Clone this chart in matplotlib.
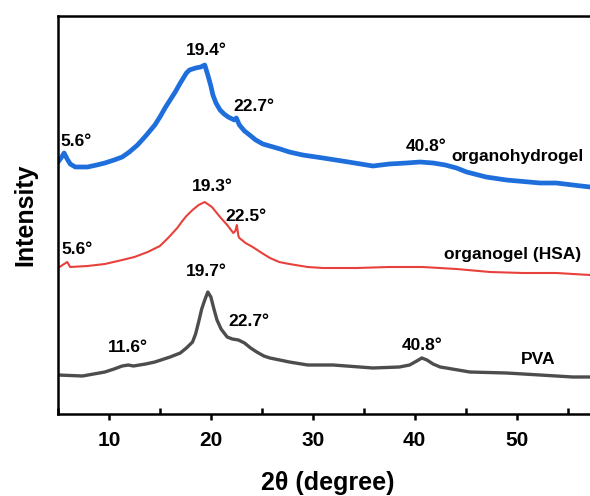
import matplotlib
matplotlib.use("Agg")
import matplotlib.pyplot as plt
from matplotlib.ticker import MultipleLocator

plt.rcParams["font.family"] = ["Liberation Sans", "DejaVu Sans"]
plt.rcParams["font.weight"] = "bold"

# organohydrogel (blue)
hydro_x = [5.0, 5.3, 5.6, 5.9, 6.2, 6.7, 7.9, 8.8, 9.6, 10.5, 11.3, 12.0, 12.8, 13.6,
           14.5, 15.0, 15.5, 16.0, 16.5, 17.0, 17.3, 17.6, 17.9, 18.5, 19.0, 19.4, 19.7,
           20.0, 20.2, 20.5, 20.9, 21.3, 21.7, 22.3, 22.5, 22.8, 23.3, 23.8, 24.4, 25.1,
           26.8, 27.7, 29.0, 31.0, 33.5, 35.9, 37.5, 39.2, 40.5, 41.8, 43.0, 44.1, 45.1,
           47.0, 49.0, 52.3, 53.9, 55.5, 57.2]
hydro_y = [252, 256, 261, 255, 250, 247, 247, 249, 251, 254, 257, 262, 269, 278,
           289, 297, 306, 314, 322, 331, 336, 341, 344, 346, 347, 349, 339,
           328, 319, 311, 304, 300, 297, 294, 296, 289, 283, 279, 274, 270,
           265, 262, 259, 256, 252, 248, 250, 251, 252, 251, 249, 246, 242,
           237, 234, 231, 231, 229, 227]

# organogel (HSA) (red)
hsa_x = [5.0, 5.6, 5.9, 6.2, 7.9, 9.6, 11.3, 12.5, 13.8, 15.0, 15.8, 16.7, 17.2, 17.6,
         18.2, 18.8, 19.4, 20.1, 20.9, 21.6, 22.2, 22.4, 22.55, 22.7, 22.8, 23.4, 24.1,
         25.0, 25.8, 26.7, 27.7, 29.5, 31.0, 34.3, 37.5, 40.8, 44.1, 47.4, 50.6, 53.9, 57.2]
hsa_y = [146, 150, 152, 147, 148, 150, 154, 157, 162, 168, 176, 186, 193, 198,
         204, 209, 212, 207, 197, 189, 181, 183, 189, 178, 176, 171, 167,
         161, 156, 152, 150, 147, 146, 146, 147, 147, 145, 142, 141, 141, 139]

# PVA (grey)
pva_x = [5.0, 7.4, 9.6, 10.5, 11.3, 11.9, 12.4, 13.6, 14.5, 16.0, 17.0, 17.6, 18.2, 18.5,
         18.8, 19.1, 19.4, 19.7, 20.0, 20.3, 20.6, 21.0, 21.6, 22.1, 22.7, 23.3, 23.9,
         24.5, 25.2, 25.8, 27.7, 29.5, 32.0, 35.9, 38.5, 39.5, 40.2, 40.7, 41.2, 41.8,
         42.5, 43.1, 45.4, 49.0, 52.3, 55.5, 57.2]
pva_y = [39, 38, 42, 45, 48, 49, 48, 50, 52, 57, 61, 66, 72, 80,
         92, 105, 114, 122, 117, 105, 94, 85, 77, 75, 74, 71, 66,
         62, 58, 56, 52, 49, 49, 46, 47, 49, 53, 56, 54, 50,
         47, 46, 42, 41, 39, 37, 37]

# peak labels: (text, x, y)
peaks = [("5.6°", 6.76, 273), ("19.4°", 19.6, 364), ("22.7°", 24.2, 308), ("40.8°", 41.1, 268),
         ("5.6°", 6.86, 165), ("19.3°", 20.1, 228), ("22.5°", 23.4, 198),
         ("11.6°", 11.9, 66), ("19.7°", 19.6, 143), ("22.7°", 23.7, 92), ("40.8°", 40.7, 69)]
names = [("organohydrogel", 50.1, 258), ("organogel (HSA)", 49.6, 160), ("PVA", 52.1, 55)]

fig = plt.figure(figsize=(5.9, 4.96), dpi=100)
ax = fig.add_axes([58 / 590, 1 - 414 / 496, 532 / 590, 398 / 496])

ax.plot(pva_x, pva_y, color="#4d4d4d", lw=2.4, solid_joinstyle="round")
ax.plot(hsa_x, hsa_y, color="#e8413c", lw=1.5, solid_joinstyle="round")
ax.plot(hydro_x, hydro_y, color="#1e6fdc", lw=3.4, solid_joinstyle="round")

for t, x, y in peaks + names:
    ax.text(x, y, t, ha="center", va="center", fontsize=12.5, fontweight="bold")

ax.set_xlim(5, 57.2)
ax.set_ylim(0, 398)
ax.set_yticks([])
ax.xaxis.set_major_locator(MultipleLocator(10))
ax.xaxis.set_minor_locator(MultipleLocator(5))
ax.tick_params(axis="x", which="major", direction="out", length=4, width=1.8, labelsize=15, pad=8)
ax.tick_params(axis="x", which="minor", direction="in", length=4, width=1.8)
ax.spines["right"].set_visible(False)
for s in ["left", "bottom", "top"]:
    ax.spines[s].set_linewidth(1.8)

fig.text(25 / 590, 1 - 215 / 496, "Intensity", rotation=90, ha="center", va="center",
         fontsize=18, fontweight="bold")
fig.text(328 / 590, 1 - 483 / 496, "2θ (degree)", ha="center", va="center",
         fontsize=18, fontweight="bold")

fig.savefig("out.png", dpi=100)
